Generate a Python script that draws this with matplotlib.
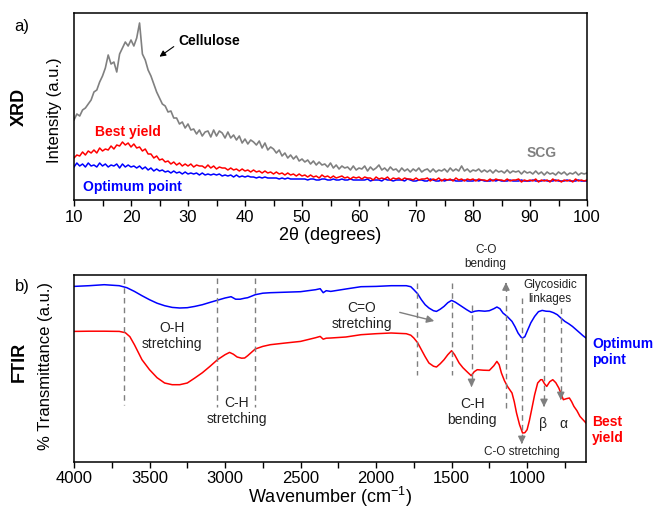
import numpy as np
import matplotlib
matplotlib.use("Agg")
import matplotlib.pyplot as plt
from matplotlib.ticker import MultipleLocator

plt.rcParams['font.family'] = ['Liberation Sans', 'DejaVu Sans']
plt.rcParams['mathtext.fontset'] = 'custom'
plt.rcParams['mathtext.rm'] = 'Liberation Sans'
plt.rcParams['mathtext.it'] = 'Liberation Sans:italic'

# ---------------- XRD data (2theta every 0.5 degree, 10..100) ----------------
xrd_2theta = np.arange(10.0, 100.01, 0.5)

xrd_scg = [
    80, 86, 84, 90, 92, 96, 100, 108, 110, 118, 124, 132, 145, 136, 138, 128, 146, 152, 158, 154,
    160, 154, 162, 177, 146, 140, 130, 124, 116, 108, 102, 96, 94, 88, 89, 82, 82, 76, 78, 72,
    76, 70, 71, 66, 70, 64, 68, 69, 63, 70, 64, 69, 67, 62, 68, 62, 65, 60, 64, 57,
    61, 56, 60, 58, 55, 59, 52, 57, 50, 53, 51, 47, 50, 44, 47, 42, 45, 41, 44, 39,
    41, 38, 40, 36, 39, 35, 38, 35, 36, 33, 37, 32, 35, 31, 34, 32, 33, 30, 34, 30,
    32, 31, 34, 29, 33, 30, 32, 35, 30, 32, 29, 33, 30, 31, 28, 32, 29, 31, 28, 31,
    29, 32, 28, 30, 31, 28, 31, 28, 30, 29, 31, 28, 32, 29, 31, 29, 34, 29, 31, 28,
    30, 29, 31, 28, 30, 28, 30, 27, 30, 28, 29, 27, 30, 27, 29, 28, 29, 26, 29, 27,
    28, 26, 29, 26, 28, 25, 28, 26, 27, 25, 28, 26, 28, 25, 27, 26, 28, 25, 27, 26,
    27]

xrd_best = [
    42, 45, 44, 48, 45, 49, 47, 50, 47, 52, 49, 51, 50, 54, 51, 55, 54, 58, 55, 57,
    53, 56, 52, 53, 49, 51, 46, 46, 42, 44, 40, 41, 38, 39, 36, 38, 35, 37, 34, 36,
    34, 36, 33, 35, 34, 34, 32, 35, 32, 34, 31, 33, 32, 32, 30, 32, 30, 31, 29, 31,
    29, 30, 28, 30, 28, 29, 27, 29, 27, 28, 26, 28, 26, 27, 25, 27, 25, 26, 24, 26,
    24, 25, 23, 25, 23, 24, 22, 25, 23, 24, 22, 24, 22, 23, 24, 22, 23, 21, 23, 22,
    23, 21, 23, 22, 22, 20, 23, 21, 22, 21, 23, 20, 22, 21, 22, 20, 22, 21, 21, 20,
    22, 20, 21, 21, 22, 19, 21, 20, 22, 19, 21, 20, 21, 19, 22, 20, 21, 19, 21, 20,
    21, 19, 21, 20, 20, 19, 21, 19, 21, 20, 20, 19, 21, 19, 20, 20, 21, 18, 20, 19,
    20, 19, 21, 18, 20, 19, 20, 18, 21, 19, 20, 18, 20, 19, 20, 18, 21, 19, 20, 19,
    20]

xrd_opt = [
    33, 37, 34, 36, 33, 37, 34, 35, 33, 37, 34, 36, 33, 35, 34, 36, 32, 36, 33, 35,
    33, 34, 32, 34, 31, 33, 30, 32, 29, 31, 29, 30, 28, 29, 27, 29, 27, 28, 26, 28,
    26, 27, 26, 27, 25, 27, 25, 26, 25, 26, 25, 26, 24, 25, 24, 25, 23, 25, 23, 24,
    23, 24, 23, 23, 22, 23, 22, 23, 22, 22, 22, 22, 21, 22, 21, 22, 21, 21, 21, 21,
    21, 21, 20, 21, 21, 20, 20, 21, 21, 20, 20, 21, 20, 20, 21, 20, 20, 21, 20, 20,
    20, 20, 20, 21, 19, 20, 20, 20, 19, 21, 20, 20, 19, 20, 20, 20, 19, 21, 20, 19,
    19, 20, 20, 19, 19, 21, 20, 19, 19, 20, 19, 20, 20, 20, 19, 19, 19, 20, 19, 19,
    19, 20, 19, 20, 19, 19, 19, 20, 19, 20, 19, 19, 19, 20, 19, 19, 19, 20, 19, 19,
    19, 20, 19, 19, 19, 20, 19, 19, 19, 20, 19, 19, 19, 20, 19, 19, 19, 20, 19, 19,
    19]

# ---------------- FTIR data ----------------
ftir_wn_opt = [4000, 3900, 3800, 3750, 3700, 3650, 3600, 3550, 3500, 3450, 3400, 3350, 3300, 3250,
               3200, 3150, 3100, 3050, 3000, 2960, 2930, 2900, 2870, 2850, 2800, 2750, 2700, 2600,
               2500, 2400, 2370, 2350, 2330, 2300, 2200, 2100, 2000, 1900, 1800, 1770, 1750, 1725,
               1700, 1675, 1650, 1620, 1600, 1575, 1550, 1525, 1500, 1475, 1450, 1425, 1400, 1370,
               1345, 1320, 1280, 1250, 1220, 1200, 1180, 1160, 1130, 1100, 1080, 1060, 1040, 1030,
               1015, 1000, 975, 950, 925, 900, 875, 850, 825, 800, 775, 750, 725, 700, 675, 650,
               630, 610]
ftir_opt = [175.3, 176, 177, 176.5, 176, 174, 170.3, 166, 162, 158.5, 156, 154.3, 153.7, 154,
            155.3, 157, 159.3, 161.5, 163.7, 165, 162.5, 162.5, 163.5, 164, 167, 168.5, 169, 169.5,
            170, 172, 173, 169, 171, 170.3, 172.7, 175, 175.3, 176, 176, 175, 172, 168,
            162, 157, 153.7, 151, 150.3, 152.5, 155.3, 159, 161.3, 159.5, 157, 154.5, 152, 149.3,
            150.5, 151, 150.5, 151, 153, 154.7, 153, 148.7, 145, 140.3, 135, 128.7, 124.5, 123.7,
            125, 130.3, 139, 145.3, 150, 151.3, 150.5, 150.3, 149, 147, 143.5, 140.3, 138, 135.3, 132, 128.7,
            126, 123.7]

ftir_wn_best = [4000, 3900, 3800, 3700, 3660, 3630, 3600, 3550, 3500, 3450, 3400, 3350, 3300, 3250,
                3200, 3150, 3100, 3050, 3000, 2970, 2945, 2920, 2890, 2870, 2850, 2830, 2800, 2750,
                2700, 2600, 2500, 2400, 2370, 2350, 2330, 2300, 2200, 2100, 2000, 1900, 1800, 1770,
                1750, 1725, 1700, 1675, 1650, 1620, 1600, 1575, 1550, 1525, 1500, 1480, 1450, 1425,
                1400, 1370, 1350, 1330, 1290, 1250, 1220, 1200, 1185, 1170, 1150, 1130, 1100, 1085,
                1070, 1050, 1030, 1015, 1000, 985, 970, 950, 930, 910, 900, 885, 870, 850, 830, 810,
                790, 775, 760, 740, 720, 705, 690, 670, 650, 630, 610]
ftir_best = [130.3, 130.5, 130.5, 130.3, 129, 125, 117, 102, 92, 84, 78.7, 77, 77, 78.7,
             83.7, 89, 95.3, 102, 107, 109.3, 107.5, 104.7, 103.5, 103.7, 106, 108.7, 112.7, 115.3,
             117, 118.7, 120.3, 124, 125.3, 122.5, 123.5, 123.7, 124.7, 127, 128, 128.7, 128, 126.5,
             123.7, 119, 112, 105, 98.7, 95.5, 94.7, 98, 102, 107, 111, 107, 98.7, 94,
             90.3, 86, 90, 92, 91.5, 91.3, 96, 100.3, 97, 88.7, 81, 75.3, 68.7, 60,
             48.7, 37, 28.7, 29, 32, 41, 52, 67, 78.7, 82, 82, 78, 75.3, 80, 82, 79,
             73.7, 68, 62, 63, 63.7, 60, 55.3, 51, 45.3, 42, 38.7]

xrd_ticks = [10, 20, 30, 40, 50, 60, 70, 80, 90, 100]
ftir_ticks = [4000, 3500, 3000, 2500, 2000, 1500, 1000]

BLUE = '#0000ff'
RED = '#ff0000'
GRAY = '#808080'
DGRAY = '#7f7f7f'

fig = plt.figure(figsize=(6.54, 5.09), dpi=100)
W, H = 654.0, 509.0

def fig_rect(x0, y0, x1, y1):
    return [x0 / W, 1 - y1 / H, (x1 - x0) / W, (y1 - y0) / H]

ax1 = fig.add_axes(fig_rect(74, 13, 587, 200))
ax2 = fig.add_axes(fig_rect(74, 275, 586, 461.7))

for ax in (ax1, ax2):
    for sp in ax.spines.values():
        sp.set_linewidth(1.1)
        sp.set_color('black')
    ax.set_yticks([])
    ax.tick_params(axis='x', which='both', direction='out', length=4, width=1,
                   labelsize=12, pad=3, top=False)

# ---- XRD panel ----
ax1.plot(xrd_2theta, xrd_scg, color=GRAY, lw=1.2)
ax1.plot(xrd_2theta, xrd_opt, color=BLUE, lw=1.1)
ax1.plot(xrd_2theta, xrd_best, color=RED, lw=1.1)
ax1.set_xlim(10, 100)
ax1.set_ylim(0, 187)
ax1.set_xticks(xrd_ticks)
ax1.xaxis.set_minor_locator(MultipleLocator(5))
ax1.set_xlabel('2θ (degrees)', fontsize=13, labelpad=2)

ax1.text(33.7, 159, 'Cellulose', fontsize=10, fontweight='bold', ha='center', va='center')
ax1.annotate('', xy=(24.6, 141.7), xytext=(27.9, 155),
             arrowprops=dict(arrowstyle='-|>', color='black', lw=0.8, mutation_scale=9))
ax1.text(19.4, 68, 'Best yield', fontsize=10, fontweight='bold', color=RED, ha='center', va='center')
ax1.text(20.3, 12.5, 'Optimum point', fontsize=10, fontweight='bold', color=BLUE, ha='center', va='center')
ax1.text(92.1, 47, 'SCG', fontsize=10, fontweight='bold', color=GRAY, ha='center', va='center')

# ---- FTIR panel ----
ax2.plot(ftir_wn_opt, ftir_opt, color=BLUE, lw=1.1)
ax2.plot(ftir_wn_best, ftir_best, color=RED, lw=1.1)
ax2.set_xlim(4000, 610)
ax2.set_ylim(0, 186.7)
ax2.set_xticks(ftir_ticks)
ax2.xaxis.set_minor_locator(MultipleLocator(250))
ax2.set_xlabel('Wavenumber (cm$^{-1}$)', fontsize=13, labelpad=-1)

# dashed guide lines (x, y_start, y_end)
dash_kw = dict(color=DGRAY, lw=1.0, ls=(0, (4, 3)))
for xv, y0, y1 in [(3670, 184, 57), (3050, 184, 55), (2800, 184, 55),
                   (1730, 179, 87), (1500, 179, 87)]:
    ax2.plot([xv, xv], [y0, y1], **dash_kw)

arrow_kw = dict(arrowstyle='-|>', color=DGRAY, lw=1.0, mutation_scale=11)
for xv, y0, y1 in [(1368, 157, 72), (1140, 54, 182), (1035, 164, 15),
                   (888, 145, 52), (777, 154, 59)]:
    direction = 1 if y1 > y0 else -1
    ax2.plot([xv, xv], [y0, y1 - direction * 6], **dash_kw)
    ax2.annotate('', xy=(xv, y1), xytext=(xv, y1 - direction * 7),
                 arrowprops=arrow_kw)

# C=O arrow
ax2.annotate('', xy=(1597, 140), xytext=(1861, 150),
             arrowprops=dict(arrowstyle='-|>', color=DGRAY, lw=1.0, mutation_scale=11))

tk = dict(ha='center', va='center', color='#222222')
ax2.text(3351, 126, 'O-H\nstretching', fontsize=10, **tk)
ax2.text(2923, 51, 'C-H\nstretching', fontsize=10, **tk)
ax2.text(2095, 146, 'C=O\nstretching', fontsize=10, **tk)
ax2.text(1274, 205, 'C-O\nbending', fontsize=8.5, **tk)
ax2.text(848, 170, 'Glycosidic\nlinkages', fontsize=8.5, **tk)
ax2.text(1364, 50, 'C-H\nbending', fontsize=10, **tk)
ax2.text(1035, 10, 'C-O stretching', fontsize=8.5, **tk)
ax2.text(896, 38, 'β', fontsize=10, **tk)
ax2.text(760, 38, 'α', fontsize=10, **tk)

fig.text(592 / W, 1 - 352 / H, 'Optimum\npoint', fontsize=10, fontweight='bold', color=BLUE,
         ha='left', va='center')
fig.text(592 / W, 1 - 430 / H, 'Best\nyield', fontsize=10, fontweight='bold', color=RED,
         ha='left', va='center')

# panel labels
fig.text(19 / W, 1 - 107 / H, 'XRD', fontsize=13, fontweight='bold', rotation=90, ha='center', va='center')
fig.text(55 / W, 1 - 110 / H, 'Intensity (a.u.)', fontsize=12, rotation=90, ha='center', va='center')
fig.text(19 / W, 1 - 362 / H, 'FTIR', fontsize=13, fontweight='bold', rotation=90, ha='center', va='center')
fig.text(46 / W, 1 - 366 / H, '% Transmittance (a.u.)', fontsize=12, rotation=90, ha='center', va='center')
fig.text(22 / W, 1 - 27 / H, 'a)', fontsize=12, ha='center', va='center')
fig.text(22 / W, 1 - 286 / H, 'b)', fontsize=12, ha='center', va='center')

fig.savefig('out.png', dpi=100)
